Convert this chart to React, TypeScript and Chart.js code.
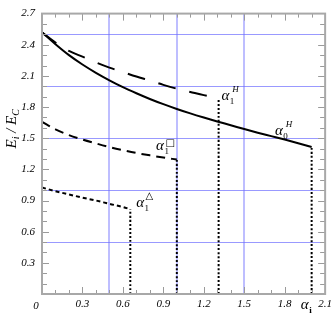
import React, { useEffect, useRef } from 'react';
import { Chart, registerables } from 'chart.js';

Chart.register(...registerables);

// α0^H (solid)
const solidX = [0, 0.1, 0.2, 0.3, 0.4, 0.5, 0.6, 0.7, 0.8, 0.9, 1.0, 1.1, 1.2, 1.3, 1.4, 1.5, 1.6, 1.7, 1.8, 1.9, 2.0];
const solidY = [2.52, 2.405, 2.3, 2.21, 2.13, 2.058, 1.992, 1.933, 1.878, 1.828, 1.782, 1.739, 1.699, 1.661, 1.625, 1.588, 1.553, 1.52, 1.487, 1.452, 1.415];

// α1^H (long dash)
const hX = [0, 0.1, 0.2, 0.3, 0.4, 0.5, 0.6, 0.7, 0.8, 0.9, 1.0, 1.1, 1.2, 1.31];
const hY = [2.52, 2.42, 2.34, 2.285, 2.23, 2.18, 2.137, 2.094, 2.055, 2.014, 1.977, 1.946, 1.915, 1.884];

// α1^□ (medium dash)
const sqX = [0, 0.1, 0.2, 0.3, 0.4, 0.5, 0.6, 0.7, 0.8, 0.9, 1.0];
const sqY = [1.657, 1.585, 1.53, 1.487, 1.45, 1.415, 1.385, 1.358, 1.335, 1.314, 1.295];

// α1^△ (short dash)
const triX = [0, 0.1, 0.2, 0.3, 0.4, 0.5, 0.6, 0.655];
const triY = [1.025, 0.99, 0.958, 0.928, 0.9, 0.868, 0.838, 0.815];

// vertical cut-off lines
const cutX = [0.655, 1.0, 1.31, 2.0];
const cutTop = [0.815, 1.295, 1.884, 1.415];

const xTickLabels = ['0', '0.3', '0.6', '0.9', '1.2', '1.5', '1.8', '2.1'];
const yTickLabels = ['', '0.3', '0.6', '0.9', '1.2', '1.5', '1.8', '2.1', '2.4', '2.7'];
const gridX = [0.5, 1.0, 1.5];
const gridY = [0.5, 1.0, 1.5, 2.0, 2.5];

const SERIF = '"Liberation Serif", "Times New Roman", serif';

function pts(xs: number[], ys: number[]) {
  return xs.map((x, i) => ({ x, y: ys[i] }));
}

function alphaLabel(ctx: CanvasRenderingContext2D, x: number, y: number, sub: string, sup: string, supFont: string, supDx: number, supDy: number) {
  ctx.font = `italic 15px ${SERIF}`;
  ctx.fillText('α', x, y);
  const w = ctx.measureText('α').width;
  ctx.font = `9px ${SERIF}`;
  ctx.fillText(sub, x + w + 0.5, y + 4);
  if (sup) {
    ctx.font = supFont;
    ctx.fillText(sup, x + w + supDx, y + supDy);
  }
}

const framePlugin = {
  id: 'framePlugin',
  beforeDatasetsDraw(chart: any) {
    const { ctx, chartArea: a, scales } = chart;
    const xs = scales.x, ys = scales.y;
    ctx.save();
    ctx.strokeStyle = 'rgba(110,110,255,0.45)';
    ctx.lineWidth = 2;
    for (const v of gridX) {
      const px = Math.round(xs.getPixelForValue(v));
      ctx.beginPath(); ctx.moveTo(px, a.top); ctx.lineTo(px, a.bottom); ctx.stroke();
    }
    ctx.strokeStyle = 'rgba(110,110,255,0.7)';
    ctx.lineWidth = 1;
    for (const v of gridY) {
      const py = Math.round(ys.getPixelForValue(v)) + 0.5;
      ctx.beginPath(); ctx.moveTo(a.left, py); ctx.lineTo(a.right, py); ctx.stroke();
    }
    ctx.restore();
  },
  afterDatasetsDraw(chart: any) {
    const { ctx, chartArea: a, scales } = chart;
    const xs = scales.x, ys = scales.y;
    ctx.save();
    // ticks
    ctx.strokeStyle = '#9a9a9a';
    ctx.lineWidth = 1;
    for (let i = 1; i < 21; i++) {
      const px = Math.round(xs.getPixelForValue(i / 10)) + 0.5;
      const len = i % 3 === 0 ? 7 : 4;
      ctx.beginPath(); ctx.moveTo(px, a.bottom); ctx.lineTo(px, a.bottom - len); ctx.stroke();
      ctx.beginPath(); ctx.moveTo(px, a.top); ctx.lineTo(px, a.top + len); ctx.stroke();
    }
    for (let i = 1; i < 27; i++) {
      const py = Math.round(ys.getPixelForValue(i / 10)) + 0.5;
      const len = i % 3 === 0 ? 7 : 5;
      ctx.beginPath(); ctx.moveTo(a.left, py); ctx.lineTo(a.left + len, py); ctx.stroke();
      ctx.beginPath(); ctx.moveTo(a.right, py); ctx.lineTo(a.right - len, py); ctx.stroke();
    }
    // frame
    ctx.strokeStyle = '#a8a8a8';
    ctx.lineWidth = 2;
    ctx.strokeRect(a.left, a.top, a.right - a.left, a.bottom - a.top);

    ctx.fillStyle = '#000';
    ctx.textBaseline = 'alphabetic';
    ctx.textAlign = 'left';
    // x origin label
    ctx.font = `italic 11px ${SERIF}`;
    ctx.textAlign = 'center';
    ctx.fillText(xTickLabels[0], xs.getPixelForValue(0) - 6, a.bottom + 15);
    ctx.textAlign = 'left';

    // curve labels
    alphaLabel(ctx, xs.getPixelForValue(1.331), ys.getPixelForValue(1.868), '1', 'H', `italic 9px ${SERIF}`, 3, -8);
    alphaLabel(ctx, xs.getPixelForValue(1.728), ys.getPixelForValue(1.528), '0', 'H', `italic 9px ${SERIF}`, 3, -8);
    alphaLabel(ctx, xs.getPixelForValue(0.846), ys.getPixelForValue(1.387), '1', '□', `10px "DejaVu Sans"`, 1.5, -4);
    alphaLabel(ctx, xs.getPixelForValue(0.699), ys.getPixelForValue(0.84), '1', '△', `10px "DejaVu Sans"`, 1.5, -8);

    // x-axis α_i label
    ctx.font = `italic 15px ${SERIF}`;
    const ax = xs.getPixelForValue(1.92);
    const ay = a.bottom + 15;
    ctx.fillText('α', ax, ay);
    const aw = ctx.measureText('α').width;
    ctx.font = `bold 9px ${SERIF}`;
    ctx.fillText('i', ax + aw + 0.5, ay + 4);

    // y-axis title E_i / E_C
    const parts: [string, string, number][] = [
      ['E', `italic 15px ${SERIF}`, 0],
      ['i', `italic 10px ${SERIF}`, 3],
      [' / ', `italic 15px ${SERIF}`, 0],
      ['E', `italic 15px ${SERIF}`, 0],
      ['C', `italic 10px ${SERIF}`, 3],
    ];
    let total = 0;
    for (const p of parts) { ctx.font = p[1]; total += ctx.measureText(p[0]).width; }
    ctx.translate(16, (a.top + a.bottom) / 2 - 25);
    ctx.rotate(-Math.PI / 2);
    let cx = -total / 2;
    for (const p of parts) {
      ctx.font = p[1];
      ctx.fillText(p[0], cx, p[2]);
      cx += ctx.measureText(p[0]).width;
    }
    ctx.restore();
  },
};

export default function App() {
  const ref = useRef<HTMLCanvasElement | null>(null);
  useEffect(() => {
    if (!ref.current) return;
    const line = (data: any[], dash: number[], width = 2) => ({
      data,
      showLine: true,
      borderColor: '#000',
      borderWidth: width,
      borderDash: dash,
      pointRadius: 0,
      cubicInterpolationMode: 'monotone' as const,
      fill: false,
    });
    const datasets: any[] = [
      line(pts(solidX, solidY), []),
      line(pts(hX, hY), [18, 14]),
      line(pts(sqX, sqY), [9, 6]),
      line(pts(triX, triY), [4, 3]),
      ...cutX.map((cx, i) => line([{ x: cx, y: 0 }, { x: cx, y: cutTop[i] }], [2, 2])),
    ];
    const chart = new Chart(ref.current, {
      type: 'scatter',
      data: { datasets },
      plugins: [framePlugin],
      options: {
        responsive: false,
        animation: false,
        devicePixelRatio: 1,
        layout: { padding: { top: 8, right: 8, left: 0, bottom: 0 } },
        plugins: { legend: { display: false }, tooltip: { enabled: false } },
        scales: {
          x: {
            type: 'linear',
            min: 0,
            max: 2.1,
            grid: { display: false, drawTicks: false },
            border: { display: false },
            ticks: {
              stepSize: 0.3,
              padding: 4,
              color: '#000',
              font: { family: SERIF, size: 11, style: 'italic' },
              maxRotation: 0,
              autoSkip: false,
              callback: (v: any) => {
                const i = Math.round(Number(v) / 0.3);
                return i === 0 ? '' : xTickLabels[i] ?? '';
              },
            },
            afterFit: (s: any) => { s.height = 22; },
          },
          y: {
            type: 'linear',
            min: 0,
            max: 2.7,
            grid: { display: false, drawTicks: false },
            border: { display: false },
            ticks: {
              stepSize: 0.3,
              padding: 7,
              color: '#000',
              font: { family: SERIF, size: 11, style: 'italic' },
              autoSkip: false,
              callback: (v: any) => yTickLabels[Math.round(Number(v) / 0.3)] ?? '',
            },
            afterFit: (s: any) => { s.width = 42; },
          },
        },
      },
    });
    return () => chart.destroy();
  }, []);
  return (
    <div style={{ position: 'fixed', left: 0, top: 0, width: 336, height: 316, background: '#fff' }}>
      <canvas ref={ref} width={336} height={316} />
    </div>
  );
}
